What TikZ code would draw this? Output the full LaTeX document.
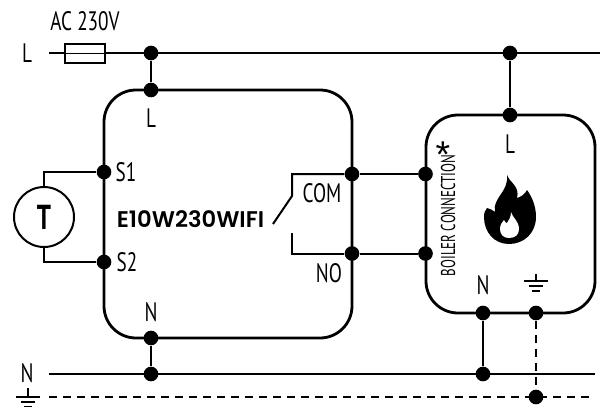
\documentclass[tikz,border=0pt]{standalone}
\usepackage{fontspec}
\setmainfont{PT Sans}[FakeStretch=0.72]
\newfontfamily\narrowfont{PT Sans}[FakeStretch=0.65]
\newfontfamily\boldlabel{Poppins SemiBold}
\newfontfamily\starfont{Liberation Sans}
\usetikzlibrary{calc}
\tikzset{
  wire/.style={line width=1.5pt},
  thin wire/.style={line width=1.05pt},
  box/.style={line width=2.1pt, rounded corners=24pt},
  earth/.style={line width=1.05pt, dash pattern=on 6pt off 4.5pt},
  dot/.style={circle, fill=black, inner sep=0pt, minimum size=11pt},
  lbl/.style={inner sep=0pt, font=\fontsize{20}{20}\selectfont},
}
\begin{document}
\begin{tikzpicture}[x=0.75pt,y=-0.75pt]
  \useasboundingbox (0,0) rectangle (608,411);

  % free ends
  \coordinate (lstart) at (49,53);
  \coordinate (lend) at (600,53);
  \coordinate (nstart) at (49,374);
  \coordinate (nend) at (595,374);
  \coordinate (estart) at (49,397);
  \coordinate (eend) at (595,397);

  % boxes
  \draw[box] (104,90) rectangle (352,338);
  \draw[box] (426,115) rectangle (595,313);

  % dots
  \node[dot] (ltop) at (151,53) {};
  \node[dot] (lmain) at (151,90) {};
  \node[dot] (lbtop) at (510,53) {};
  \node[dot] (lboil) at (510,115) {};
  \node[dot] (s1) at (104,172) {};
  \node[dot] (s2) at (104,262) {};
  \node[dot] (com) at (352,174) {};
  \node[dot] (no) at (352,253.5) {};
  \node[dot] (comb) at (425.5,174) {};
  \node[dot] (nob) at (425.5,253.5) {};
  \node[dot] (nmain) at (151,338) {};
  \node[dot] (nbot) at (151,374) {};
  \node[dot] (nboil) at (483,313) {};
  \node[dot] (nbbot) at (483,374) {};
  \node[dot] (eboil) at (536,313) {};
  \node[dot] (ebot) at (536,397) {};

  % supply lines
  \draw[thin wire] (lstart) -- (lend);
  \draw[thin wire] (nstart) -- (nend);
  \draw[earth] (estart) -- (eend);
  \draw[wire] (ltop) -- (lmain);
  \draw[wire] (lbtop) -- (lboil);
  \draw[wire] (nmain) -- (nbot);
  \draw[wire] (nboil) -- (nbbot);
  \draw[earth] (eboil) -- (ebot);
  \draw[wire] (com) -- (comb);
  \draw[wire] (no) -- (nob);

  % fuse
  \node[draw, fill=white, line width=1.05pt, minimum width=30pt, minimum height=14.5pt, inner sep=0pt] (fuse) at (85,53.5) {};
  \draw[thin wire] (fuse.west) -- (fuse.east);

  % sensor
  \node[draw, circle, line width=1.5pt, minimum size=45pt, inner sep=0pt, font=\fontsize{26}{26}\selectfont\bfseries] (t) at (44,217) {T};
  \draw[thin wire] (t.north) |- (s1);
  \draw[thin wire] (t.south) |- (s2);

  % relay
  \coordinate (cont) at (273,224);
  \coordinate (nstub) at (292,233);
  \draw[wire] (com) -- (292,174) -- (292,196) -- (cont);
  \draw[wire] (no) -| (nstub);

  % labels
  \node[lbl] (lac) at (85,21) {AC 230V};
  \node[lbl] (ll) at (27,53) {L};
  \node[lbl] (lnl) at (151,118) {L};
  \node[lbl] at (126,172) {S1};
  \node[lbl] at (127,262) {S2};
  \node[lbl] at (151,312) {N};
  \node[lbl] at (27,373) {N};
  \node[lbl] at (322,193) {COM};
  \node[lbl] at (329,273) {NO};
  \node[lbl] at (510,144) {L};
  \node[lbl] at (483,285) {N};
  \node[inner sep=0pt, font=\boldlabel\fontsize{17}{17}\selectfont] at (190.5,219) {E10W230WIFI};
  \node[inner sep=0pt, rotate=90, anchor=west, font=\narrowfont\fontsize{15}{15}\selectfont] at (448,276.5) {BOILER CONNECTION};
  \node[inner sep=0pt, font=\starfont\fontsize{28}{28}\selectfont] at (443,155) {*};

  % left earth
  \draw[thin wire] (28,388) -- (28,397);
  \draw[line width=1.3pt] (16,397) -- (40,397) (21,402) -- (35,402) (24,406.5) -- (32,406.5);
  % boiler earth
  \draw[thin wire] (536,274) -- (536,281);
  \draw[line width=1.3pt] (524,281) -- (548,281) (529,286) -- (543,286) (532,291) -- (540,291);

  % flame
  \fill (507,175) .. controls (510,183) and (520,186) .. (517,198)
    .. controls (521,197) and (525,194) .. (527,190)
    .. controls (532,197) and (536,206) .. (536,217)
    .. controls (536,233) and (524,244) .. (509,244)
    .. controls (494,244) and (484,232) .. (484,217)
    .. controls (484,213) and (485,210) .. (487,208)
    .. controls (490,209) and (493,210) .. (495,212)
    .. controls (492,198) and (509,192) .. (507,175) -- cycle;
  \fill[white] (511,212) .. controls (512,217) and (519,221) .. (519,229)
    .. controls (519,235) and (515,238) .. (509,238)
    .. controls (504,238) and (500,235) .. (500,229)
    .. controls (500,225) and (502,222) .. (504,220)
    .. controls (505,222) and (506,223) .. (507,223)
    .. controls (509,220) and (511,217) .. (511,212) -- cycle;
\end{tikzpicture}
\end{document}
